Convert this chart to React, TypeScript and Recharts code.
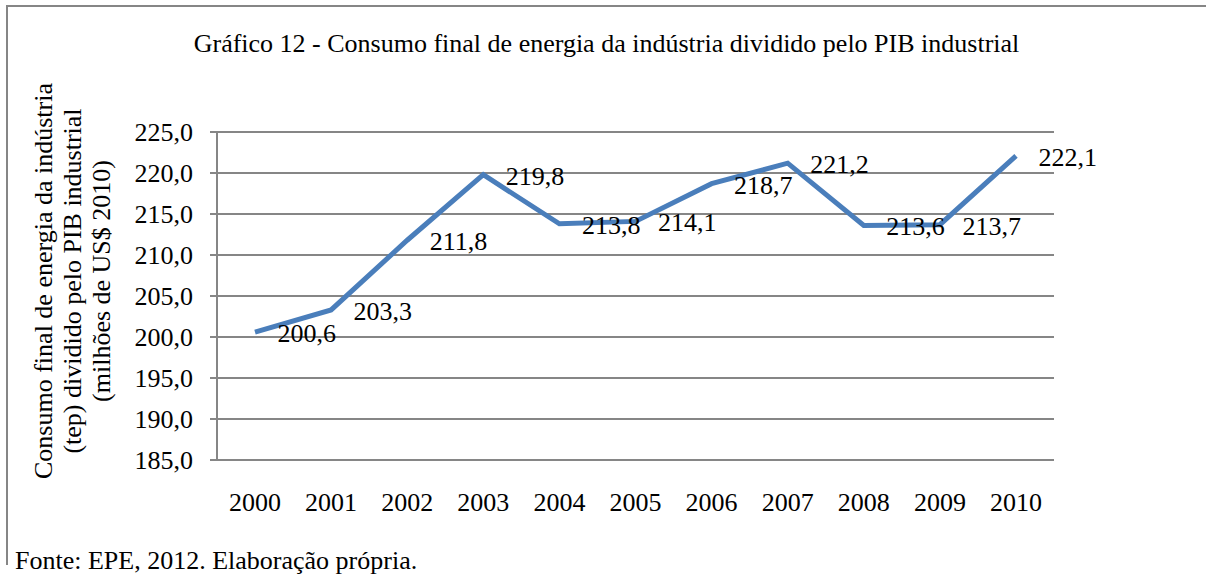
import React from 'react';
import { LineChart, Line, XAxis, YAxis, CartesianGrid, LabelList } from 'recharts';

const years = ['2000', '2001', '2002', '2003', '2004', '2005', '2006', '2007', '2008', '2009', '2010'];
const values = [200.6, 203.3, 211.8, 219.8, 213.8, 214.1, 218.7, 221.2, 213.6, 213.7, 222.1];
const yTicks = [185, 190, 195, 200, 205, 210, 215, 220, 225];

const titleText = 'Gráfico 12 - Consumo final de energia da indústria dividido pelo PIB industrial';
const yLabelLines = [
  'Consumo final de energia da indústria',
  '(tep) dividido pelo PIB industrial',
  '(milhões de US$ 2010)',
];
const sourceText = 'Fonte: EPE, 2012. Elaboração própria.';

const data = years.map((y, i) => ({ year: y, value: values[i] }));

const FONT = '"Liberation Serif", "Times New Roman", serif';
const GRID = '#868686';
const LINE = '#4A7EBB';
const fmt = (v: number) => v.toFixed(1).replace('.', ',');

const DataLabel = (props: any) => {
  const { x, y, value } = props;
  if (x == null || y == null) return null;
  return (
    <text x={Number(x) + 22.5} y={Number(y) + 10} fontSize={26} fontFamily={FONT} fill="#000">
      {fmt(Number(value))}
    </text>
  );
};

export default function App() {
  const W = 1206;
  const H = 577;
  return (
    <div style={{ position: 'absolute', left: 0, top: 0, width: W, height: H, overflow: 'hidden', background: '#fff' }}>
      <div
        style={{
          position: 'absolute',
          left: 6,
          top: 5,
          width: W,
          height: 558,
          borderTop: `2px solid ${GRID}`,
          borderLeft: `2px solid ${GRID}`,
        }}
      />
      <div style={{ position: 'absolute', left: 0, top: 0 }}>
        <LineChart width={W} height={H} data={data} margin={{ top: 132, right: 152, bottom: 57, left: 0 }}>
          <CartesianGrid horizontal vertical={false} stroke={GRID} strokeWidth={2} />
          <XAxis
            dataKey="year"
            height={60}
            padding={{ left: 38, right: 38 }}
            tickLine={false}
            tickSize={0}
            tickMargin={33}
            axisLine={{ stroke: GRID, strokeWidth: 2 }}
            tick={{ fontSize: 26, fontFamily: FONT, fill: '#000' }}
            interval={0}
          />
          <YAxis
            width={217}
            domain={[185, 225]}
            ticks={yTicks}
            interval={0}
            tickFormatter={fmt}
            tickSize={7}
            tickMargin={17}
            tickLine={{ stroke: GRID, strokeWidth: 2 }}
            axisLine={{ stroke: GRID, strokeWidth: 2 }}
            tick={{ fontSize: 26, fontFamily: FONT, fill: '#000' }}
          />
          <Line
            type="linear"
            dataKey="value"
            stroke={LINE}
            strokeWidth={5}
            dot={false}
            activeDot={false}
            isAnimationActive={false}
          >
            <LabelList dataKey="value" content={DataLabel} />
          </Line>
        </LineChart>
      </div>
      <svg width={W} height={H} style={{ position: 'absolute', left: 0, top: 0, pointerEvents: 'none' }}>
        <text x={606.5} y={52} textAnchor="middle" fontSize={26} fontFamily={FONT} fill="#000">
          {titleText}
        </text>
        {yLabelLines.map((t, i) => (
          <text
            key={i}
            x={0}
            y={0}
            transform={`translate(${52 + i * 29}, 281) rotate(-90)`}
            textAnchor="middle"
            fontSize={26}
            fontFamily={FONT}
            fill="#000"
          >
            {t}
          </text>
        ))}
        <text x={15} y={569} fontSize={26} fontFamily={FONT} fill="#000">
          {sourceText}
        </text>
      </svg>
    </div>
  );
}
